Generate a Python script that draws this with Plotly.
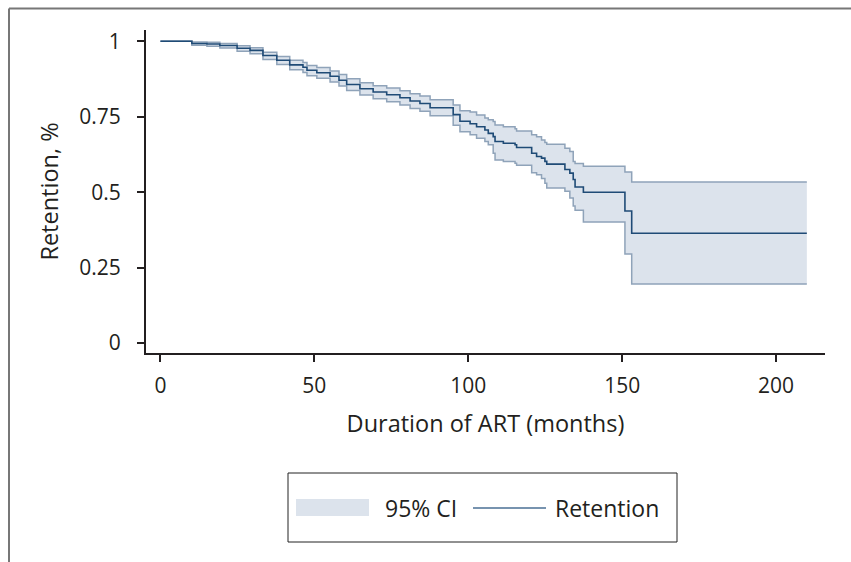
import plotly.graph_objects as go

# Kaplan-Meier retention estimate
time = [0, 10.2, 15.1, 19.3, 24.9, 29.1, 33.3, 37.8, 42.0, 46.3, 47.6, 50.8,
        55.1, 58.0, 60.5, 64.8, 69.1, 73.5, 77.8, 81.1, 84.3, 87.6, 95.1, 97.3,
        100.6, 102.7, 105.4, 106.5, 108.1, 108.7, 111.4, 115.2, 115.7, 120.6,
        122.2, 123.8, 124.9, 125.5, 131.4, 133.0, 134.1, 134.7, 137.4, 150.9,
        153.1, 210.0]
retention = [1.000, 0.993, 0.991, 0.986, 0.977, 0.970, 0.953, 0.937, 0.922,
             0.914, 0.904, 0.896, 0.884, 0.871, 0.857, 0.843, 0.832, 0.823,
             0.813, 0.802, 0.794, 0.780, 0.757, 0.735, 0.727, 0.717, 0.706,
             0.695, 0.684, 0.668, 0.662, 0.657, 0.648, 0.629, 0.618, 0.613,
             0.602, 0.593, 0.575, 0.563, 0.542, 0.517, 0.500, 0.4375, 0.364,
             0.364]
ci_lower = [1.000, 0.987, 0.984, 0.978, 0.967, 0.959, 0.940, 0.923, 0.906,
            0.897, 0.886, 0.878, 0.865, 0.852, 0.837, 0.822, 0.810, 0.800,
            0.789, 0.777, 0.768, 0.753, 0.722, 0.700, 0.690, 0.679, 0.668,
            0.657, 0.629, 0.607, 0.602, 0.596, 0.589, 0.564, 0.558, 0.545,
            0.530, 0.514, 0.503, 0.481, 0.454, 0.440, 0.401, 0.295, 0.196,
            0.196]
ci_upper = [1.000, 0.998, 0.997, 0.993, 0.985, 0.979, 0.964, 0.950, 0.937,
            0.930, 0.920, 0.913, 0.902, 0.890, 0.876, 0.863, 0.853, 0.845,
            0.836, 0.826, 0.819, 0.806, 0.789, 0.770, 0.766, 0.756, 0.746,
            0.740, 0.734, 0.723, 0.717, 0.710, 0.703, 0.690, 0.684, 0.673,
            0.665, 0.659, 0.646, 0.635, 0.602, 0.595, 0.586, 0.567, 0.534,
            0.534]

x_ticks = [0, 50, 100, 150, 200]
y_ticks = [0, 0.25, 0.5, 0.75, 1]
y_tick_labels = ["0", "0.25", "0.5", "0.75", "1"]

FONT = "Open Sans"
TXT = "#231f20"
FILL = "#dce3ec"
EDGE = "#8fa3b9"
LINE = "#1f4b76"

fig = go.Figure()
fig.add_trace(go.Scatter(x=time, y=ci_lower, mode="lines", line=dict(color=EDGE, width=1.5, shape="hv"),
                         showlegend=False, hoverinfo="skip"))
fig.add_trace(go.Scatter(x=time, y=ci_upper, mode="lines", line=dict(color=EDGE, width=1.5, shape="hv"),
                         fill="tonexty", fillcolor=FILL, name="95% CI", showlegend=False, hoverinfo="skip"))
fig.add_trace(go.Scatter(x=time, y=retention, mode="lines", line=dict(color=LINE, width=1.6, shape="hv"),
                         name="Retention", showlegend=False))

L, R, T, B = 146, 26, 30, 209
W, H = 851, 562
pw, ph = W - L - R, H - T - B


def px(x):
    return (x - L) / pw


def py(y):
    return (H - B - y) / ph


shapes = [
    # outer frame
    dict(type="line", xref="paper", yref="paper", x0=px(9), x1=px(851), y0=py(8.5), y1=py(8.5),
         line=dict(color="#777777", width=2)),
    dict(type="line", xref="paper", yref="paper", x0=px(9), x1=px(9), y0=py(8.5), y1=py(562),
         line=dict(color="#777777", width=2)),
    # legend box
    dict(type="rect", xref="paper", yref="paper", x0=px(288), x1=px(677), y0=py(542), y1=py(473),
         line=dict(color="#222222", width=1), fillcolor="white"),
    dict(type="rect", xref="paper", yref="paper", x0=px(296), x1=px(369), y0=py(516), y1=py(499),
         line=dict(width=0), fillcolor=FILL),
    dict(type="line", xref="paper", yref="paper", x0=px(473), x1=px(546), y0=py(508), y1=py(508),
         line=dict(color="#4a6f94", width=1.5)),
]
annotations = [
    dict(text="95% CI", xref="paper", yref="paper", x=px(383), y=py(508), xanchor="left", yanchor="middle",
         showarrow=False, font=dict(family=FONT, size=23, color=TXT)),
    dict(text="Retention", xref="paper", yref="paper", x=px(553), y=py(508), xanchor="left", yanchor="middle",
         showarrow=False, font=dict(family=FONT, size=23, color=TXT)),
]

fig.update_layout(
    width=W, height=H,
    margin=dict(l=L, r=R, t=T, b=B, pad=0),
    paper_bgcolor="white", plot_bgcolor="white",
    font=dict(family=FONT, size=21, color=TXT),
    shapes=shapes, annotations=annotations,
    xaxis=dict(range=[-4.7, 215.9], tickvals=x_ticks, showline=True, linecolor="#231f20", linewidth=2,
               ticks="outside", ticklen=7, tickwidth=1.5, tickcolor="#231f20", showgrid=False, zeroline=False,
               ticklabelstandoff=6,
               title=dict(text="Duration of ART (months)", standoff=17, font=dict(size=23.5)),
               tickfont=dict(size=21)),
    yaxis=dict(range=[-0.033, 1.0375], tickvals=y_ticks, ticktext=y_tick_labels, showline=True,
               linecolor="#231f20", linewidth=2, ticks="outside", ticklen=7, tickwidth=1.5,
               tickcolor="#231f20", showgrid=False, zeroline=False, ticklabelstandoff=12,
               title=dict(text="Retention, %", standoff=14, font=dict(size=23.5)),
               tickfont=dict(size=21)),
)

fig.write_html("out.html", config={"displayModeBar": False},
               post_script="document.body.style.margin='0px';")
